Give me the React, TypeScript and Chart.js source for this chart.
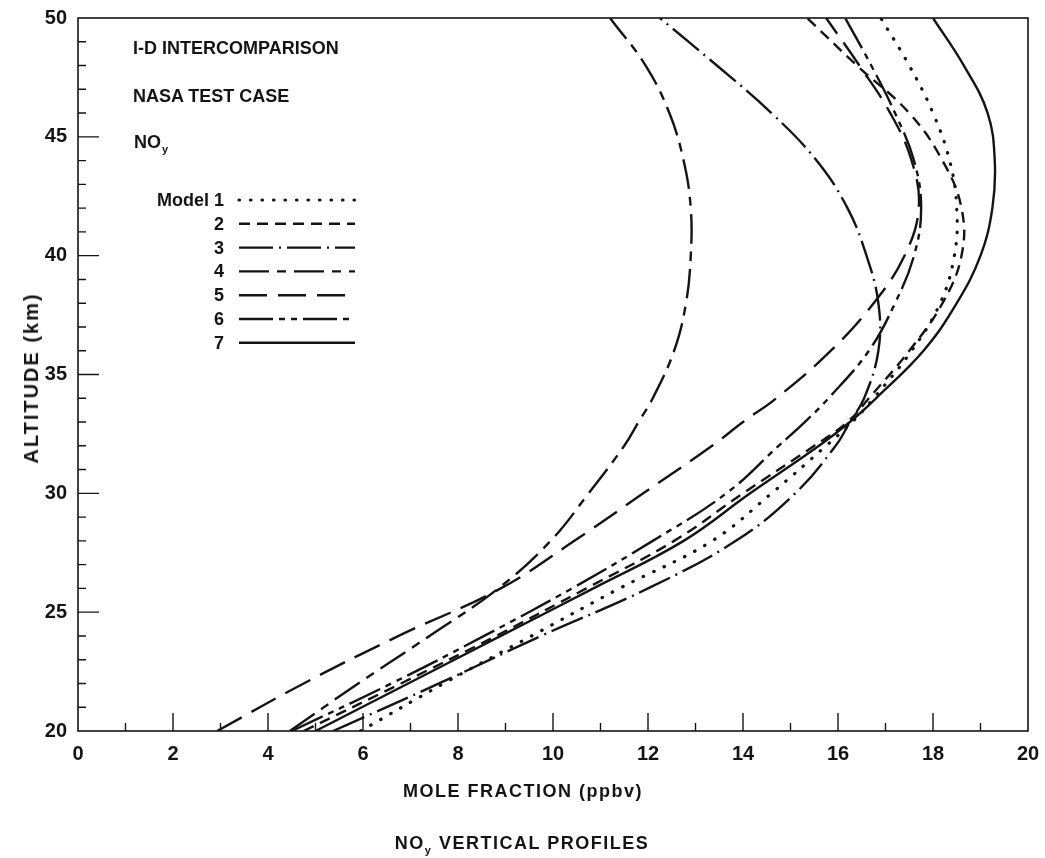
import React, { useEffect, useRef } from "react";
import { Chart, registerables } from "chart.js";

Chart.register(...registerables);

// Altitude levels (km) at which each profile is read
const altitudes = [20, 22, 24, 26, 28, 30, 32, 33, 34, 36, 38, 40, 42, 44, 46, 48, 50];

// NOy mole fraction (ppbv) per model, one value per altitude
const model1 = [5.95, 7.7, 9.55, 11.4, 13.35, 14.6, 15.75, 16.3, 16.75, 17.55, 18.15, 18.45, 18.5, 18.35, 18.0, 17.5, 16.9];
const model2 = [4.75, 6.8, 8.8, 10.7, 12.55, 14.0, 15.5, 16.2, 16.65, 17.5, 18.2, 18.6, 18.6, 18.2, 17.5, 16.4, 15.35];
const model3 = [5.37, 7.6, 9.75, 12.0, 13.85, 15.1, 15.95, 16.25, 16.55, 16.85, 16.85, 16.6, 16.2, 15.55, 14.6, 13.45, 12.25];
const model4 = [4.46, 5.9, 7.4, 8.85, 9.95, 10.75, 11.5, 11.8, 12.1, 12.55, 12.8, 12.9, 12.9, 12.75, 12.45, 11.95, 11.2];
const model5 = [2.93, 4.75, 6.75, 8.9, 10.45, 11.9, 13.35, 14.0, 14.7, 15.85, 16.75, 17.4, 17.7, 17.55, 17.1, 16.45, 15.75];
const model6 = [4.5, 6.6, 8.55, 10.4, 12.1, 13.65, 14.75, 15.3, 15.8, 16.65, 17.2, 17.6, 17.75, 17.6, 17.2, 16.7, 16.15];
const model7 = [5.0, 6.95, 8.9, 10.85, 12.75, 14.15, 15.6, 16.25, 16.8, 17.8, 18.5, 19.0, 19.25, 19.3, 19.15, 18.65, 18.0];

const modelLabels = ["1", "2", "3", "4", "5", "6", "7"];
const modelValues = [model1, model2, model3, model4, model5, model6, model7];

// Axis ranges and tick steps
const xRange = [0, 20];
const yRange = [20, 50];
const xLabelStep = 2;
const yLabelStep = 5;

// Text
const annotationLines = ["I-D INTERCOMPARISON", "NASA TEST CASE"];
const xTitle = "MOLE FRACTION (ppbv)";
const yTitle = "ALTITUDE (km)";
const captionRest = " VERTICAL PROFILES";

const INK = "#141414";
const FONT = "'Liberation Sans', Arial, Helvetica, sans-serif";

const dashStyles: { dash: number[]; cap: CanvasLineCap }[] = [
  { dash: [0.5, 11], cap: "round" },
  { dash: [11, 7], cap: "butt" },
  { dash: [34, 6, 2, 6], cap: "butt" },
  { dash: [30, 8, 9, 8], cap: "butt" },
  { dash: [28, 11], cap: "butt" },
  { dash: [34, 6, 6, 6, 6, 6], cap: "butt" },
  { dash: [], cap: "butt" },
];

const LEG_X0 = 239;
const LEG_X1 = 355;
const LEG_Y0 = 200;
const LEG_DY = 23.8;

const frameTicksPlugin = {
  id: "frameTicks",
  afterDatasetsDraw(chart: any) {
    const { ctx, chartArea, scales } = chart;
    const { left, right, top, bottom } = chartArea;
    const xs = scales.x;
    const ys = scales.y;
    ctx.save();
    ctx.strokeStyle = INK;
    ctx.lineWidth = 1.6;
    ctx.strokeRect(left, top, right - left, bottom - top);
    ctx.lineWidth = 1.4;
    ctx.beginPath();
    for (let v = xRange[0] + 1; v < xRange[1]; v++) {
      const px = xs.getPixelForValue(v);
      const len = v % xLabelStep === 0 ? 18 : 8;
      ctx.moveTo(px, bottom);
      ctx.lineTo(px, bottom - len);
    }
    for (let v = yRange[0] + 1; v < yRange[1]; v++) {
      const py = ys.getPixelForValue(v);
      const len = v % yLabelStep === 0 ? 21 : 8;
      ctx.moveTo(left, py);
      ctx.lineTo(left + len, py);
    }
    ctx.stroke();
    ctx.restore();
  },
};

const legendLinesPlugin = {
  id: "legendLines",
  afterDraw(chart: any) {
    const { ctx } = chart;
    chart.data.datasets.forEach((ds: any, i: number) => {
      const yy = LEG_Y0 + i * LEG_DY;
      ctx.save();
      ctx.strokeStyle = ds.borderColor;
      ctx.lineWidth = ds.borderWidth;
      ctx.lineCap = ds.borderCapStyle;
      ctx.setLineDash(ds.borderDash || []);
      ctx.beginPath();
      ctx.moveTo(LEG_X0, yy);
      ctx.lineTo(LEG_X1, yy);
      ctx.stroke();
      ctx.restore();
    });
  },
};

export default function App() {
  const canvasRef = useRef<HTMLCanvasElement | null>(null);

  useEffect(() => {
    if (!canvasRef.current) return;
    const datasets = modelValues.map((vals, i) => ({
      label: "Model " + modelLabels[i],
      data: vals.map((v, k) => ({ x: v, y: altitudes[k] })),
      borderColor: INK,
      backgroundColor: INK,
      borderWidth: i === 0 ? 3.2 : 2.4,
      borderDash: dashStyles[i].dash,
      borderCapStyle: dashStyles[i].cap,
      pointRadius: 0,
      fill: false,
      tension: 0.4,
    }));

    const chart = new Chart(canvasRef.current, {
      type: "line",
      data: { datasets },
      plugins: [frameTicksPlugin, legendLinesPlugin],
      options: {
        animation: false,
        responsive: false,
        layout: { padding: { top: 18, right: 17, left: 0, bottom: 0 } },
        plugins: {
          legend: { display: false },
          tooltip: { enabled: false },
        },
        scales: {
          x: {
            type: "linear",
            min: xRange[0],
            max: xRange[1],
            grid: { display: false, drawTicks: false },
            border: { display: false },
            ticks: {
              stepSize: xLabelStep,
              autoSkip: false,
              maxRotation: 0,
              padding: 11,
              color: INK,
              font: { family: FONT, size: 20, weight: "bold" },
            },
            afterFit: (scale: any) => {
              scale.height = 127;
              scale.paddingLeft = 0;
              scale.paddingRight = 0;
            },
          },
          y: {
            type: "linear",
            min: yRange[0],
            max: yRange[1],
            grid: { display: false, drawTicks: false },
            border: { display: false },
            ticks: {
              stepSize: yLabelStep,
              padding: 11,
              color: INK,
              font: { family: FONT, size: 20, weight: "bold" },
            },
            afterFit: (scale: any) => {
              scale.width = 78;
              scale.paddingTop = 0;
              scale.paddingBottom = 0;
            },
          },
        },
      },
    });
    return () => chart.destroy();
  }, []);

  const textStyle: React.CSSProperties = {
    position: "absolute",
    fontFamily: FONT,
    fontWeight: "bold",
    fontSize: 18,
    lineHeight: "20px",
    color: INK,
    whiteSpace: "nowrap",
  };

  return (
    <div style={{ position: "absolute", left: 0, top: 0, width: 1045, height: 858, background: "#fff" }}>
      <canvas ref={canvasRef} width={1045} height={858} style={{ display: "block" }} />
      <div
        style={{
          ...textStyle,
          fontSize: 20,
          letterSpacing: 2,
          left: 31,
          top: 378,
          transform: "translate(-50%, -50%) rotate(-90deg)",
        }}
      >
        {yTitle}
      </div>
      <div style={{ ...textStyle, left: 133, top: 38 }}>{annotationLines[0]}</div>
      <div style={{ ...textStyle, left: 133, top: 86 }}>{annotationLines[1]}</div>
      <div style={{ ...textStyle, left: 134, top: 132 }}>
        NO<span style={{ fontSize: 11, position: "relative", top: 5, marginLeft: 1 }}>y</span>
      </div>
      {modelLabels.map((lab, i) => (
        <div
          key={lab}
          style={{ ...textStyle, left: 0, width: 224, textAlign: "right", top: LEG_Y0 + i * LEG_DY - 10 }}
        >
          {i === 0 ? "Model " + lab : lab}
        </div>
      ))}
      <div style={{ ...textStyle, left: 223, width: 600, textAlign: "center", top: 781, letterSpacing: 1.5 }}>
        {xTitle}
      </div>
      <div style={{ ...textStyle, left: 222, width: 600, textAlign: "center", top: 833, letterSpacing: 1.5 }}>
        NO<span style={{ fontSize: 11, position: "relative", top: 5 }}>y</span>
        {captionRest}
      </div>
    </div>
  );
}
